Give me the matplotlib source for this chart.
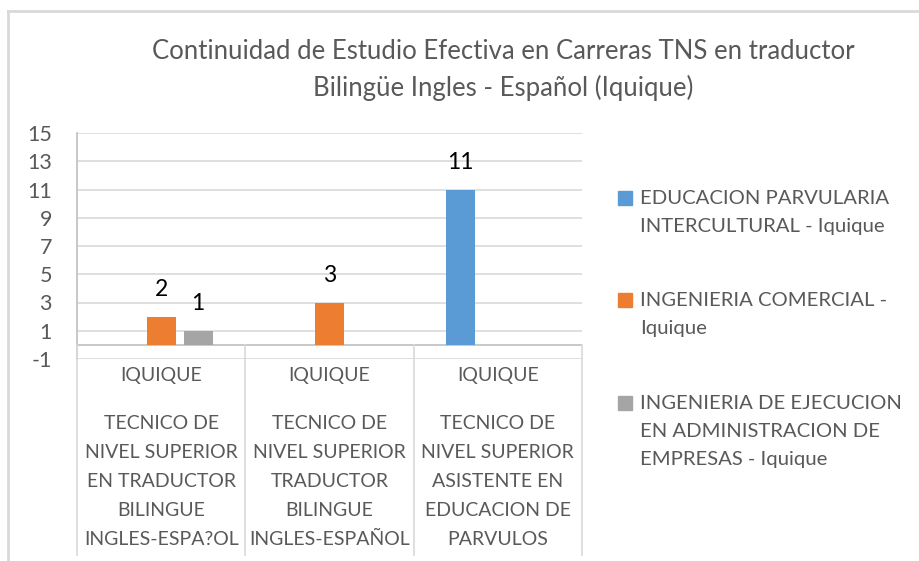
import numpy as np
import matplotlib
matplotlib.use("Agg")
import matplotlib.pyplot as plt
from matplotlib.lines import Line2D
from matplotlib.patches import Rectangle
from matplotlib.transforms import blended_transform_factory

plt.rcParams['font.family'] = ['Lato', 'DejaVu Sans']
plt.rcParams['axes.unicode_minus'] = False

# --- data -------------------------------------------------------------
title = ("Continuidad de Estudio Efectiva en Carreras TNS en traductor\n"
         "Bilingüe Ingles - Español (Iquique)")
sede_labels = ["IQUIQUE", "IQUIQUE", "IQUIQUE"]
career_labels = [
    "TECNICO DE\nNIVEL SUPERIOR\nEN TRADUCTOR\nBILINGUE\nINGLES-ESPA?OL",
    "TECNICO DE\nNIVEL SUPERIOR\nTRADUCTOR\nBILINGUE\nINGLES-ESPAÑOL",
    "TECNICO DE\nNIVEL SUPERIOR\nASISTENTE EN\nEDUCACION DE\nPARVULOS",
]
series_names = [
    "EDUCACION PARVULARIA\nINTERCULTURAL - Iquique",
    "INGENIERIA COMERCIAL -\nIquique",
    "INGENIERIA DE EJECUCION\nEN ADMINISTRACION DE\nEMPRESAS - Iquique",
]
educacion_parvularia = [np.nan, np.nan, 11]
ingenieria_comercial = [2, 3, np.nan]
ingenieria_ejecucion = [1, np.nan, np.nan]
series_values = [educacion_parvularia, ingenieria_comercial, ingenieria_ejecucion]
series_colors = ["#5B9BD5", "#ED7D31", "#A5A5A5"]
y_ticks = list(range(-1, 16, 2))

# --- layout helpers (pixel positions measured from the top-left) --------
W, H = 919, 561
fig = plt.figure(figsize=(W / 100, H / 100), dpi=100)


def fx(px):
    return px / W


def fy(py):
    return 1 - py / H


ax_left, ax_right, ax_top, ax_bottom = 77, 582, 133, 359
ax = fig.add_axes([fx(ax_left), fy(ax_bottom), fx(ax_right - ax_left),
                   fy(ax_top) - fy(ax_bottom)])

text_gray = "#595959"
grid_gray = "#d9d9d9"

# --- bars ---------------------------------------------------------------
x = np.arange(len(sede_labels))
bar_w = 0.173
step = 0.22
for i, (vals, col) in enumerate(zip(series_values, series_colors)):
    pos = x + (i - 1) * step
    vals = np.asarray(vals, dtype=float)
    bars = ax.bar(pos, vals, width=bar_w, color=col, zorder=3)
    for b, v in zip(bars, vals):
        if not np.isnan(v):
            ax.annotate(f"{v:g}", (b.get_x() + b.get_width() / 2, v),
                        xytext=(0, 19.5), textcoords="offset points",
                        ha="center", va="center", fontsize=16.5, color="black")

ax.set_xlim(-0.5, len(sede_labels) - 0.5)
ax.set_ylim(-1, 15)
ax.set_yticks(y_ticks)
ax.set_xticks([])
ax.yaxis.grid(True, color=grid_gray, linewidth=1.2, zorder=0)
ax.set_axisbelow(True)
ax.axhline(0, color="#bfbfbf", linewidth=1.2, zorder=2)
ax.tick_params(axis="y", length=0, pad=18, labelsize=15.5, labelcolor=text_gray)
for s in ["top", "right", "bottom"]:
    ax.spines[s].set_visible(False)
ax.spines["left"].set_color("#bfbfbf")
ax.spines["left"].set_linewidth(1.2)

# --- multi-level category axis -----------------------------------------
trans = blended_transform_factory(ax.transData, fig.transFigure)
zero_py = ax_top + (15 - 0) * (ax_bottom - ax_top) / 16
for b in np.arange(-0.5, len(sede_labels), 1.0):
    fig.add_artist(Line2D([b, b], [fy(zero_py), fy(555)], transform=trans,
                          color=grid_gray, linewidth=1.2))
for xi, sede, career in zip(x, sede_labels, career_labels):
    fig.text(xi, fy(376), sede, transform=trans, ha="center", va="center",
             fontsize=14, color=text_gray)
    fig.text(xi, fy(415), career, transform=trans, ha="center", va="top",
             fontsize=14, color=text_gray, linespacing=1.85)

# --- title --------------------------------------------------------------
fig.text(fx(503), fy(70), title, ha="center", va="center", fontsize=18.5,
         color=text_gray, linespacing=1.55)

# --- legend -------------------------------------------------------------
legend_rows = [198, 300, 403]
for name, col, row in zip(series_names, series_colors, legend_rows):
    fig.add_artist(Rectangle((fx(618), fy(row + 7)), fx(14), fy(row - 7) - fy(row + 7),
                             transform=fig.transFigure, color=col))
    fig.text(fx(640), fy(row - 8), name, ha="left", va="top", fontsize=14.6,
             color=text_gray, linespacing=1.78)

# --- chart border ---------------------------------------------------------
fig.add_artist(Line2D([fx(8), 1], [fy(11), fy(11)], color=grid_gray, linewidth=2))
fig.add_artist(Line2D([fx(8), fx(8)], [fy(11), 0], color=grid_gray, linewidth=2))

fig.savefig("out.png", dpi=100)
